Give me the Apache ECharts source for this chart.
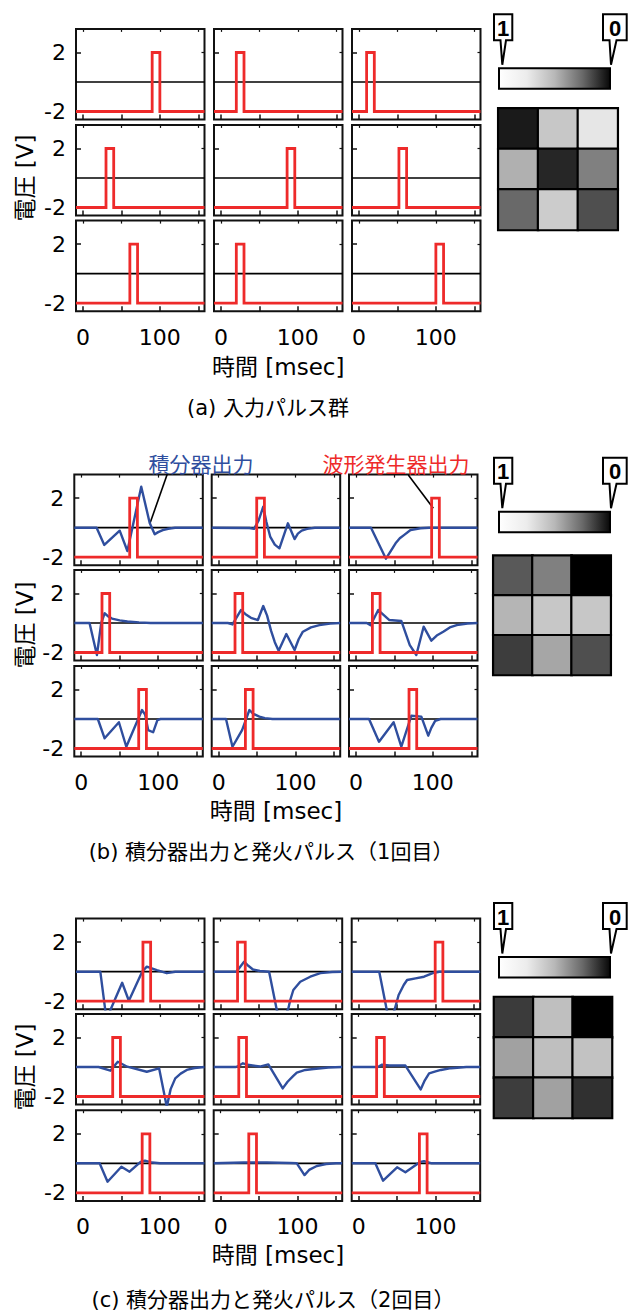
<!DOCTYPE html>
<html><head><meta charset="utf-8">
<script src="https://cdn.jsdelivr.net/npm/echarts@6/dist/echarts.min.js"></script>
<style>html,body{margin:0;padding:0;background:#fff}#c{width:629px;height:1316px}</style>
</head><body><div id="c"></div>
<script>
// ---------------- DATA ----------------
const T_MIN = -9, T_MAX = 158;
const V_MIN = -2.55, V_MAX = 3.6;
const xTickValues = [0, 50, 100, 150];
const xLabelValues = [0, 100];
const yTickValues = [-2, 2];
const pulseLow = -2, pulseHigh = 2, pulseWidth = 10;

// pulse start times [msec], row-major 3x3
const pulseStartA = [[90, 20, 10], [30, 86, 52], [61, 20, 100]];
const pulseStartB = [[63, 49.5, 98.4], [27, 21.3, 21.4], [74.7, 34.8, 69]];
const pulseStartC = [[78, 22, 99.5], [38.7, 23.6, 23.4], [77, 36.6, 79]];

// integrator output [msec, V], row-major 3x3
const integratorB = [
  [[-9,0],[20,0],[30,-1.17],[50,-0.2],[60,-1.58],[78,2.78],[89,0.32],[95.5,-0.45],[100,-0.3],[106,-0.16],[113,-0.07],[122,0],[158,0]],
  [[-9,0],[40,-0.02],[46,-0.08],[52,0.5],[58,1.42],[62,0.4],[67,-0.6],[73,-1.15],[79,-1.4],[90,0.3],[98.7,-0.77],[103,-0.4],[108,-0.2],[115,-0.08],[125,0],[158,0]],
  [[-9,0],[19.6,0],[39,-2.1],[45,-1.6],[51.5,-1.06],[57,-0.72],[62.4,-0.5],[71,-0.16],[84,-0.04],[95,0],[158,0]],
  [[-9,0],[10.8,0],[20.4,-2.17],[26,0],[30.4,0.66],[35,0.45],[40,0.3],[50,0.18],[60,0.1],[75,0.04],[90,0],[158,0]],
  [[-9,0],[12,0],[18,-0.1],[29,0.88],[35,0.6],[42,0.35],[51,0.2],[58,1.15],[63,0.5],[68,-0.5],[73,-1.3],[78,-1.88],[88,-0.75],[98.7,-1.83],[104,-1.1],[109.5,-0.59],[120,-0.3],[131,-0.14],[145,-0.04],[158,0]],
  [[-9,0],[14,0],[19,-0.15],[29,0.88],[43.5,0.2],[59,0.14],[70,-1.5],[78.5,-2.17],[88,-0.25],[98,-1.2],[105,-0.85],[113.5,-0.59],[122,-0.3],[131,-0.14],[145,-0.03],[158,0]],
  [[-9,0],[21.6,0],[30.4,-1.31],[49,-0.22],[58.6,-1.88],[79,0.61],[83,0.3],[87,-0.75],[93.4,-0.9],[99,-0.07],[103,0],[158,0]],
  [[-9,0],[9.6,0],[18,-1.88],[30.5,-0.75],[40,0.61],[45,0.35],[53,0.16],[60,0.06],[70,0],[158,0]],
  [[-9,0],[17,0],[30,-1.54],[49,-0.22],[59,-1.88],[72,0.22],[85,0.16],[94,-1.13],[98,-0.6],[103,-0.13],[110,0],[158,0]]
];
const integratorC = [
  [[-9,0],[22.6,0],[31,-3.4],[35.7,-2.6],[51,-0.75],[59.7,-1.97],[77,0],[83,0.34],[96,0.11],[109,-0.1],[120,0],[158,0]],
  [[-9,0],[20.5,0],[30.5,0.68],[36,0.4],[42,0.15],[51,0.05],[63,0],[73,-2.6],[80,-3.4],[88,-2.5],[90.5,-1.92],[94.5,-1.24],[103.5,-0.68],[116.5,-0.34],[129.6,-0.1],[145,-0.02],[158,0]],
  [[-9,0],[26.8,0],[36.6,-2.6],[41,-3.3],[46.6,-2.6],[52,-1.58],[58.6,-0.9],[63,-0.56],[74,-0.45],[85,-0.34],[98,-0.07],[105,0],[158,0]],
  [[-9,0],[20.4,0],[35.7,-0.25],[45.3,0.36],[57.6,0.02],[83,-0.32],[99,-0.09],[109,-2.7],[114,-1.5],[120,-0.77],[127,-0.45],[135,-0.2],[145,-0.07],[158,0]],
  [[-9,0],[20,0],[24,0.1],[29,0.25],[35,0.15],[51,0.03],[62,0.18],[80.7,-1.45],[87,-1.0],[94.5,-0.6],[99,-0.38],[110,-0.2],[121,-0.14],[140,-0.03],[158,0]],
  [[-9,0],[25,0],[30,0.15],[40,0.1],[60.8,0.1],[80.6,-1.52],[86,-0.9],[91.6,-0.43],[100,-0.3],[107,-0.2],[120,-0.08],[140,0],[158,0]],
  [[-9,0],[21.7,0],[32,-1.25],[50,-0.23],[60.6,-0.57],[75,0.1],[80.6,0.18],[90,0.05],[100,0],[158,0]],
  [[-9,0],[30,0.05],[60,0.05],[90,0.02],[99,0],[109,-0.8],[115,-0.45],[125,-0.18],[137,-0.05],[150,0],[158,0]],
  [[-9,0],[21.7,0],[31.8,-1.18],[50,-0.27],[60.8,-0.61],[80.4,0.1],[85,0.15],[95,0],[158,0]]
];

// gray map values (1 = white, 0 = black), row-major
const heatA = [[0.10, 0.78, 0.90], [0.69, 0.15, 0.50], [0.41, 0.80, 0.31]];
const heatB = [[0.35, 0.50, 0.00], [0.71, 0.78, 0.78], [0.24, 0.65, 0.31]];
const heatC = [[0.23, 0.75, 0.00], [0.63, 0.75, 0.76], [0.24, 0.63, 0.19]];

const colorbarLabels = ['1', '0'];
const yAxisTitle = '電圧 [V]';
const xAxisTitle = '時間 [msec]';
const captionA = '(a) 入力パルス群';
const captionB = '(b) 積分器出力と発火パルス（1回目）';
const captionC = '(c) 積分器出力と発火パルス（2回目）';
const noteIntegrator = '積分器出力';
const noteGenerator = '波形発生器出力';

// ---------------- LAYOUT ----------------
const FONT = "'DejaVu Sans', 'Noto Sans CJK JP', sans-serif";
const RED = '#ee2a2a', BLUE = '#2f4e9e';
const PX_PER_V = 14.75;
const PW = 128.5, PH = (V_MAX - V_MIN) * PX_PER_V;

const panels = [
  { colLeft: [76, 214, 352], zero: [82, 178, 273.7], pulses: pulseStartA, blue: null, heat: heatA,
    heatBox: [498.3, 108.3, 119.4, 121.7], cbTop: 68.3, ylabY: 178, xlabY: 367, cap: captionA, capX: 268, capY: 408 },
  { colLeft: [74.3, 211.7, 349], zero: [527.7, 623, 719], pulses: pulseStartB, blue: integratorB, heat: heatB,
    heatBox: [493.3, 555.7, 117.4, 119.3], cbTop: 511.7, ylabY: 625, xlabY: 811, cap: captionB, capX: 271, capY: 852 },
  { colLeft: [76, 213.7, 351.7], zero: [971.7, 1067, 1163.3], pulses: pulseStartC, blue: integratorC, heat: heatC,
    heatBox: [494, 997, 118, 121], cbTop: 957, ylabY: 1067, xlabY: 1255, cap: captionC, capX: 273, capY: 1300 }
];

const grids = [], xAxes = [], yAxes = [], series = [], graphics = [], heatSeriesIdx = [];

function pulseData(s) {
  return [[T_MIN, pulseLow], [s, pulseLow], [s, pulseHigh], [s + pulseWidth, pulseHigh], [s + pulseWidth, pulseLow], [T_MAX, pulseLow]];
}

function addPlot(left, top, showY, showX, start, blue) {
  const gi = grids.length;
  grids.push({ left: left, top: top, width: PW, height: PH, show: true, borderColor: '#111', borderWidth: 2, backgroundColor: 'rgba(0,0,0,0)' });
  const xi = xAxes.length, yi = yAxes.length;
  const noLine = { show: false, onZero: false };
  xAxes.push({ gridIndex: gi, type: 'value', min: T_MIN, max: T_MAX, position: 'bottom',
    axisLine: noLine, splitLine: { show: false },
    axisTick: { show: true, inside: true, length: 5, customValues: xTickValues, lineStyle: { color: '#111', width: 1.5 } },
    axisLabel: { show: showX, customValues: xLabelValues, margin: 15, fontSize: 22, color: '#000', fontFamily: FONT } });
  xAxes.push({ gridIndex: gi, type: 'value', min: T_MIN, max: T_MAX, position: 'top',
    axisLine: noLine, splitLine: { show: false },
    axisTick: { show: true, inside: true, length: 3, customValues: xTickValues, lineStyle: { color: '#111', width: 1.2 } },
    axisLabel: { show: false } });
  yAxes.push({ gridIndex: gi, type: 'value', min: V_MIN, max: V_MAX, position: 'left',
    axisLine: noLine, splitLine: { show: false },
    axisTick: { show: true, inside: true, length: 5, customValues: yTickValues, lineStyle: { color: '#111', width: 1.5 } },
    axisLabel: { show: showY, customValues: yTickValues, margin: 10, fontSize: 22, color: '#000', fontFamily: FONT } });
  yAxes.push({ gridIndex: gi, type: 'value', min: V_MIN, max: V_MAX, position: 'right',
    axisLine: noLine, splitLine: { show: false },
    axisTick: { show: true, inside: true, length: 3, customValues: yTickValues, lineStyle: { color: '#111', width: 1.2 } },
    axisLabel: { show: false } });
  const common = { type: 'line', xAxisIndex: xi, yAxisIndex: yi, symbol: 'none', silent: true, animation: false, clip: true };
  series.push(Object.assign({}, common, { data: [[T_MIN, 0], [T_MAX, 0]], lineStyle: { color: '#000', width: 1.7 }, z: 2 }));
  if (blue) series.push(Object.assign({}, common, { data: blue, lineStyle: { color: BLUE, width: 2.4, join: 'round' }, z: 3 }));
  series.push(Object.assign({}, common, { data: pulseData(start), lineStyle: { color: RED, width: 2.8, join: 'miter' }, z: 4 }));
}

function addHeat(box, vals) {
  const gi = grids.length;
  grids.push({ left: box[0], top: box[1], width: box[2], height: box[3], show: false });
  const cats = ['0', '1', '2'];
  const xi = xAxes.length, yi = yAxes.length;
  xAxes.push({ gridIndex: gi, type: 'category', data: cats, show: false });
  yAxes.push({ gridIndex: gi, type: 'category', data: cats, inverse: true, show: false });
  const data = [];
  vals.forEach((row, r) => row.forEach((v, c) => data.push([c, r, v])));
  heatSeriesIdx.push(series.length);
  series.push({ type: 'heatmap', xAxisIndex: xi, yAxisIndex: yi, data: data, silent: true, animation: false,
    itemStyle: { borderColor: '#000', borderWidth: 2.2 } });
}

function addColorbar(cbTop) {
  graphics.push({ type: 'rect', shape: { x: 499, y: cbTop, width: 111, height: 20.5 },
    style: { fill: { type: 'linear', x: 0, y: 0, x2: 1, y2: 0,
      colorStops: [{ offset: 0, color: '#ffffff' }, { offset: 0.25, color: '#ececec' }, { offset: 0.5, color: '#b8b8b8' },
                   { offset: 0.75, color: '#6a6a6a' }, { offset: 1, color: '#080808' }] },
      stroke: '#000', lineWidth: 2 } });
  const bt = cbTop - 54, bb = cbTop - 28, tip = cbTop - 3.5;
  graphics.push({ type: 'polygon', shape: { points: [[494, bt], [512.3, bt], [512.3, bb], [506, bb], [502.3, tip], [500.5, bb], [494, bb]] },
    style: { fill: '#fff', stroke: '#000', lineWidth: 2 } });
  graphics.push({ type: 'polygon', shape: { points: [[603, bt], [626.7, bt], [626.7, bb], [616.5, bb], [611, tip], [609.5, bb], [603, bb]] },
    style: { fill: '#fff', stroke: '#000', lineWidth: 2 } });
  graphics.push({ type: 'text', x: 503.2, y: (bt + bb) / 2 + 1, style: { text: colorbarLabels[0], fontSize: 22, fontWeight: 'bold', fontFamily: "'Liberation Sans', sans-serif", fill: '#000', align: 'center', verticalAlign: 'middle' } });
  graphics.push({ type: 'text', x: 615, y: (bt + bb) / 2 + 1, style: { text: colorbarLabels[1], fontSize: 22, fontWeight: 'bold', fontFamily: "'Liberation Sans', sans-serif", fill: '#000', align: 'center', verticalAlign: 'middle' } });
}

function addText(x, y, text, size, color, rot) {
  graphics.push({ type: 'text', x: x, y: y, rotation: rot || 0,
    style: { text: text, fontSize: size, fontFamily: FONT, fill: color || '#000', align: 'center', verticalAlign: 'middle' } });
}

panels.forEach((p, pi) => {
  for (let r = 0; r < 3; r++) {
    for (let c = 0; c < 3; c++) {
      const top = p.zero[r] - V_MAX * PX_PER_V;
      addPlot(p.colLeft[c], top, c === 0, r === 2, p.pulses[r][c], p.blue ? p.blue[r * 3 + c] : null);
    }
  }
  addHeat(p.heatBox, p.heat);
  addColorbar(p.cbTop);
  addText(25, p.ylabY, yAxisTitle, 23, '#000', Math.PI / 2);
  addText(p.colLeft[1] + PW / 2, p.xlabY, xAxisTitle, 23, '#000');
  addText(p.capX, p.capY, p.cap, 21, '#000');
});

// annotations in panel (b)
addText(201, 465, noteIntegrator, 21, BLUE);
addText(396, 465, noteGenerator, 21, RED);
graphics.push({ type: 'line', shape: { x1: 167.3, y1: 474, x2: 150, y2: 523.3 }, style: { stroke: '#000', lineWidth: 1.6 } });
graphics.push({ type: 'line', shape: { x1: 408.3, y1: 475, x2: 433.3, y2: 508.3 }, style: { stroke: '#000', lineWidth: 1.6 } });

const chart = echarts.init(document.getElementById('c'), null, { renderer: 'svg', width: 629, height: 1316 });
chart.setOption({
  backgroundColor: '#fff',
  animation: false,
  grid: grids,
  xAxis: xAxes,
  yAxis: yAxes,
  visualMap: [{ type: 'continuous', show: false, min: 0, max: 1, seriesIndex: heatSeriesIdx, inRange: { color: ['#000000', '#ffffff'] } }],
  series: series,
  graphic: graphics
});
</script>
</body></html>
